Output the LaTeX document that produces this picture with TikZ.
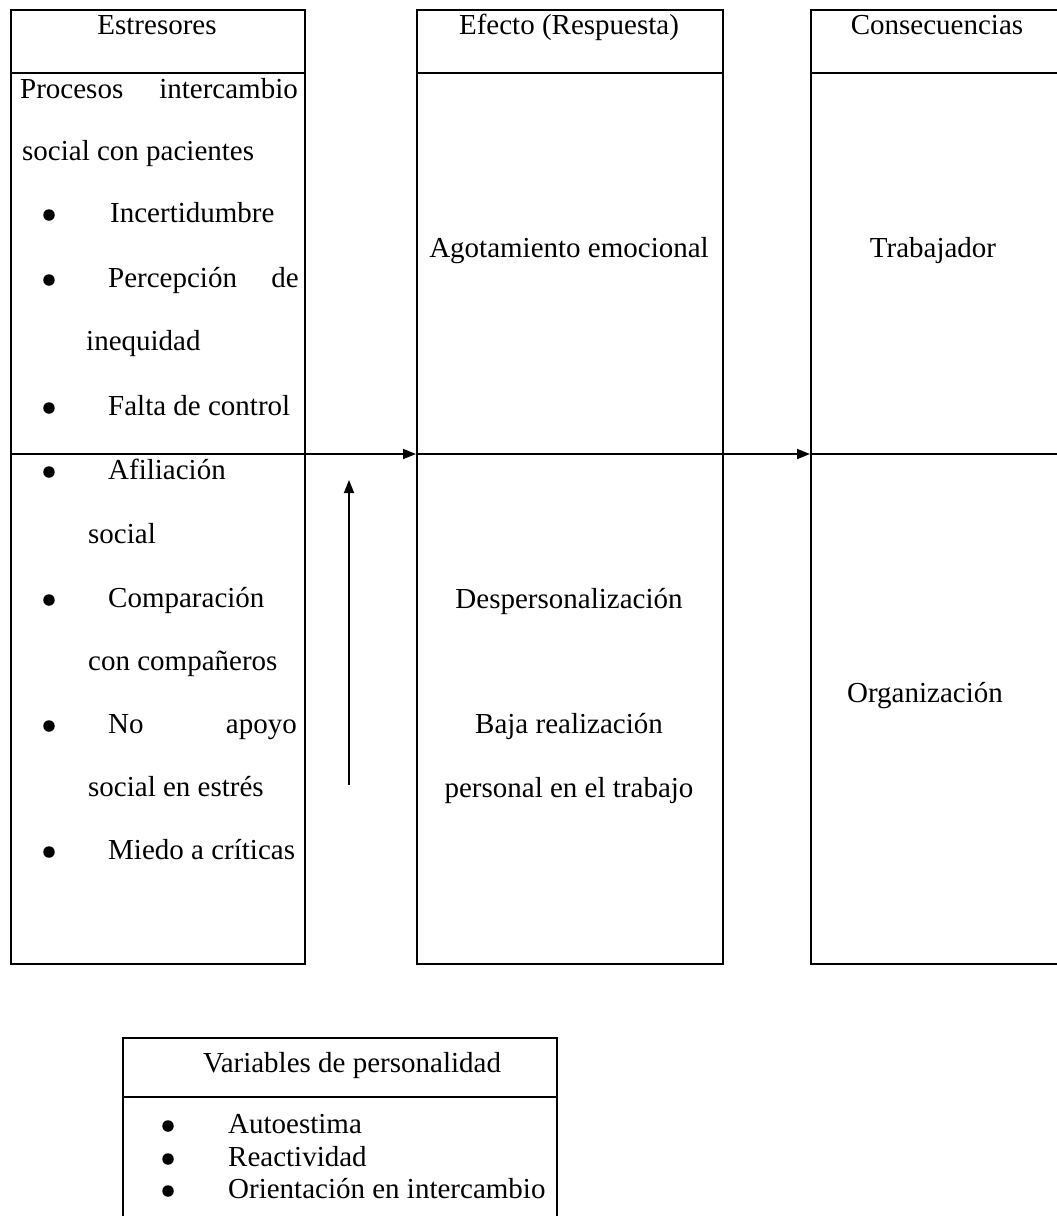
\documentclass[tikz,border=0pt]{standalone}
\usepackage{fontspec}
\setmainfont{Liberation Serif}
\usetikzlibrary{arrows.meta}
\begin{document}
\begin{tikzpicture}[x=1pt,y=-1pt,
  frame/.style={draw, line width=1.8pt, rectangle, inner sep=0pt, anchor=north west},
  rule/.style={line width=1.8pt},
  arr/.style={line width=1.8pt, -{Triangle[length=13pt,width=10pt]}},
  txt/.style={font=\fontsize{29}{34}\selectfont, inner sep=0pt},
  lt/.style={txt, anchor=base west},
  rt/.style={txt, anchor=base east},
  ct/.style={txt, anchor=base},
  dot/.style={circle, fill, inner sep=0pt, minimum size=11.5pt}
]
\useasboundingbox (0,0) rectangle (1057,1216);
\clip (0,0) rectangle (1057,1216);

% three columns: stressors, response, consequences
\node[frame, minimum width=294pt, minimum height=954pt] (est) at (10,9) {};
\node[frame, minimum width=306pt, minimum height=954pt] (ef) at (416,9) {};
\node[frame, minimum width=256pt, minimum height=954pt] (con) at (810,9) {};
% personality variables box
\node[frame, minimum width=434pt, minimum height=200pt] (var) at (122,1037) {};

% header rules
\foreach \b in {est,ef,con} {
  \draw[rule] ([yshift=-64pt]\b.north west) -- ([yshift=-64pt]\b.north east);
}
\draw[rule] ([yshift=-60pt]var.north west) -- ([yshift=-60pt]var.north east);

% middle rules and the flow arrows between columns
\foreach \b in {est,ef,con} {
  \path ([yshift=-445pt]\b.north west) coordinate (\b L)
        ([yshift=-445pt]\b.north east) coordinate (\b R);
}
\draw[rule] (estL) -- (estR);
\draw[arr] (estR) -- (efL);
\draw[rule] (efL) -- (efR);
\draw[arr] (efR) -- (conL);
\draw[rule] (conL) -- (conR);

% moderating arrow from personality variables
\coordinate (mb) at (349,785);
\coordinate (mt) at (349,480);
\draw[arr] (mb) -- (mt);

% headers
\node[ct] (h1) at (157,34) {Estresores};
\node[ct] (h2) at (569,34) {Efecto (Respuesta)};
\node[ct] (h3) at (937,34) {Consecuencias};

% stressors list
\node[lt] (s1a) at (20,98) {Procesos};
\node[rt] (s1b) at (298,98) {intercambio};
\node[lt] (s2) at (22,160) {social con pacientes};
\node[dot] (b1) at (49,215) {};
\node[lt] (s3) at (110,222) {Incertidumbre};
\node[dot] (b2) at (49,280) {};
\node[lt] (s4a) at (108,287) {Percepción};
\node[rt] (s4b) at (299,287) {de};
\node[lt] (s5) at (86,350) {inequidad};
\node[dot] (b3) at (49,408) {};
\node[lt] (s6) at (108,415) {Falta de control};
\node[dot] (b4) at (49,472) {};
\node[lt] (s7) at (108,479) {Afiliación};
\node[lt] (s8) at (88,543) {social};
\node[dot] (b5) at (49,600) {};
\node[lt] (s9) at (108,607) {Comparación};
\node[lt] (s10) at (88,670) {con compañeros};
\node[dot] (b6) at (49,726) {};
\node[lt] (s11a) at (108,733) {No};
\node[rt] (s11b) at (297,733) {apoyo};
\node[lt] (s12) at (88,796) {social en estrés};
\node[dot] (b7) at (49,852) {};
\node[lt] (s13) at (108,859) {Miedo a críticas};

% responses
\node[ct] (r1) at (569,257) {Agotamiento emocional};
\node[ct] (r2) at (569,608) {Despersonalización};
\node[ct] (r3) at (569,733) {Baja realización};
\node[ct] (r4) at (569,797) {personal en el trabajo};

% consequences
\node[ct] (c1) at (933,257) {Trabajador};
\node[ct] (c2) at (925,702) {Organización};

% personality variables
\node[ct] (v0) at (352,1072) {Variables de personalidad};
\node[dot] (vb1) at (168,1126) {};
\node[lt] (v1) at (228,1133) {Autoestima};
\node[dot] (vb2) at (168,1159) {};
\node[lt] (v2) at (228,1166) {Reactividad};
\node[dot] (vb3) at (168,1191) {};
\node[lt] (v3) at (228,1198) {Orientación en intercambio};
\end{tikzpicture}
\end{document}
